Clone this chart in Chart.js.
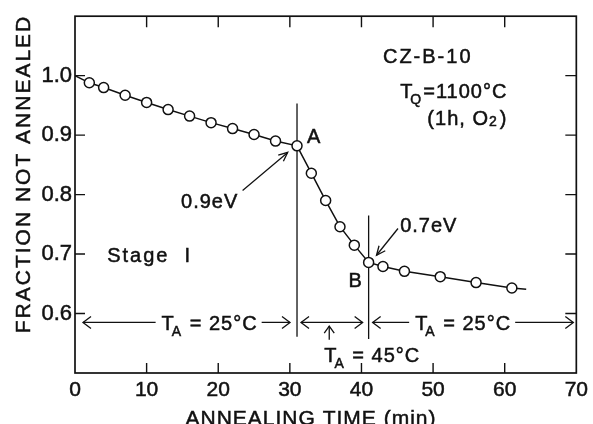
<!DOCTYPE html>
<html>
<head>
<meta charset="utf-8">
<script src="https://cdn.jsdelivr.net/npm/chart.js@4"></script>
<style>
  html, body { margin: 0; padding: 0; background: #fff; }
</style>
</head>
<body>
<canvas id="annealChart" width="593" height="424"></canvas>
<script>
// Recovery of sample CZ-B-10 during stepwise annealing
const annealTime = [2, 4, 7, 10, 13, 16, 19, 22, 25, 28, 31, 33, 35, 37, 39, 41, 43, 46, 51, 56, 61];
const fractionLeft = [0.988, 0.980, 0.967, 0.955, 0.943, 0.932, 0.921, 0.911, 0.901, 0.890, 0.882,
                      0.836, 0.790, 0.746, 0.715, 0.686, 0.679, 0.671, 0.662, 0.652, 0.643];
// fitted curve runs a little past the measured points at both ends
const curveStart = [0, 1.0];
const curveEnd = [63, 0.641];

const timeTicks = [0, 10, 20, 30, 40, 50, 60, 70];
const fractionTicks = [0.6, 0.7, 0.8, 0.9, 1.0];

// annealing stages: boundaries (min) and temperature of each stage (°C)
const stageBounds = [0, 31, 41, 70];
const stageTemps = ["25", "45", "25"];

const INK = "#111";
const FONT = "'Liberation Sans', Arial, sans-serif";

const measured = annealTime.map((t, i) => ({ x: t, y: fractionLeft[i] }));
const curve = [
  { x: curveStart[0], y: curveStart[1] },
  ...measured,
  { x: curveEnd[0], y: curveEnd[1] }
];

// ---------------- drawing helpers ----------------
// parts: [text, "sub" | "small" | undefined, extra gap before]
function richText(ctx, parts, x, y, size, align) {
  const fontFor = kind => (kind ? Math.round(size * 0.72) : size) + "px " + FONT;
  let total = 0;
  const widths = parts.map(([txt, kind, gap = 0]) => {
    ctx.font = fontFor(kind);
    const w = ctx.measureText(txt).width + gap;
    total += w;
    return w;
  });
  const left = align === "center" ? x - total / 2 : align === "right" ? x - total : x;
  let cx = left;
  const base = y + size * 0.36;
  ctx.textAlign = "left";
  ctx.textBaseline = "alphabetic";
  ctx.lineWidth = 0.5;
  parts.forEach(([txt, kind, gap = 0], i) => {
    ctx.font = fontFor(kind);
    const dy = kind === "sub" ? size * 0.3 : kind === "small" ? size * 0.05 : 0;
    ctx.fillText(txt, cx + gap, base + dy);
    ctx.strokeText(txt, cx + gap, base + dy);
    cx += widths[i];
  });
  return { left, width: total };
}

function arrowHead(ctx, x1, y1, x2, y2, len, half) {
  const a = Math.atan2(y2 - y1, x2 - x1);
  const spread = Math.atan2(half, len);
  const l = Math.hypot(len, half);
  ctx.beginPath();
  ctx.moveTo(x2 - l * Math.cos(a - spread), y2 - l * Math.sin(a - spread));
  ctx.lineTo(x2, y2);
  ctx.lineTo(x2 - l * Math.cos(a + spread), y2 - l * Math.sin(a + spread));
  ctx.stroke();
}

function arrow(ctx, x1, y1, x2, y2, len, half) {
  ctx.beginPath();
  ctx.moveTo(x1, y1);
  ctx.lineTo(x2, y2);
  ctx.stroke();
  arrowHead(ctx, x1, y1, x2, y2, len, half);
}

// ---------------- frame, inward ticks, stage markers ----------------
const frameAndMarkers = {
  id: "frameAndMarkers",
  beforeDatasetsDraw(chart) {
    const { ctx, chartArea: a, scales: { x, y } } = chart;
    ctx.save();
    ctx.strokeStyle = INK;
    ctx.lineWidth = 1.7;
    ctx.strokeRect(a.left, a.top, a.right - a.left, a.bottom - a.top);

    ctx.lineWidth = 1.4;
    ctx.beginPath();
    timeTicks.slice(1, -1).forEach(t => {
      const px = x.getPixelForValue(t);
      ctx.moveTo(px, a.bottom); ctx.lineTo(px, a.bottom - 10);
      ctx.moveTo(px, a.top); ctx.lineTo(px, a.top + 11);
    });
    fractionTicks.forEach(f => {
      const py = y.getPixelForValue(f);
      ctx.moveTo(a.left, py); ctx.lineTo(a.left + 10, py);
      ctx.moveTo(a.right, py); ctx.lineTo(a.right - 11, py);
    });
    ctx.stroke();

    // vertical lines marking the temperature changes (A and B)
    ctx.lineWidth = 1.3;
    ctx.beginPath();
    ctx.moveTo(x.getPixelForValue(stageBounds[1]), y.getPixelForValue(0.953));
    ctx.lineTo(x.getPixelForValue(stageBounds[1]), y.getPixelForValue(0.561));
    ctx.moveTo(x.getPixelForValue(stageBounds[2]), y.getPixelForValue(0.765));
    ctx.lineTo(x.getPixelForValue(stageBounds[2]), y.getPixelForValue(0.557));
    ctx.stroke();
    ctx.restore();
  },

  afterDraw(chart) {
    const { ctx, scales: { x, y } } = chart;
    const X = v => x.getPixelForValue(v);
    const Y = v => y.getPixelForValue(v);
    ctx.save();
    ctx.fillStyle = INK;
    ctx.strokeStyle = INK;
    ctx.letterSpacing = "1px";

    // axis titles
    ctx.save();
    ctx.letterSpacing = "2px";
    ctx.font = "21px " + FONT;
    ctx.lineWidth = 0.5;
    ctx.textAlign = "center";
    ctx.textBaseline = "middle";
    ctx.translate(24, 174);
    ctx.rotate(-Math.PI / 2);
    ctx.fillText("FRACTION NOT ANNEALED", 0, 0);
    ctx.strokeText("FRACTION NOT ANNEALED", 0, 0);
    ctx.restore();

    ctx.save();
    ctx.letterSpacing = "1px";
    ctx.font = "21px " + FONT;
    ctx.lineWidth = 0.5;
    ctx.textAlign = "center";
    ctx.textBaseline = "alphabetic";
    ctx.fillText("ANNEALING TIME (min)", 311, 425);
    ctx.strokeText("ANNEALING TIME (min)", 311, 425);
    ctx.restore();

    // sample and quench conditions
    ctx.letterSpacing = "2px";
    richText(ctx, [["CZ-B-10"]], X(43.0), Y(1.033), 20, "left");
    ctx.letterSpacing = "1px";
    richText(ctx, [["T"], ["Q", "sub", -3], ["=1100°C", undefined, 1]], X(45.4), Y(0.974), 20, "left");
    richText(ctx, [["(1h, O"], ["2", "small"], [")", undefined, 2]], X(49.2), Y(0.929), 20, "left");

    ctx.letterSpacing = "2px";
    richText(ctx, [["Stage  I"]], X(4.5), Y(0.698), 20, "left");
    ctx.letterSpacing = "1px";

    // break points
    richText(ctx, [["A"]], X(33.4), Y(0.899), 20, "center");
    richText(ctx, [["B"]], X(39.2), Y(0.656), 20, "center");

    // activation energies
    richText(ctx, [["0.9eV"]], X(22.8), Y(0.790), 20, "right");
    ctx.lineWidth = 1.3;
    arrow(ctx, X(23.4), Y(0.807), X(29.7), Y(0.871), 9, 4);
    richText(ctx, [["0.7eV"]], X(45.4), Y(0.750), 20, "left");
    ctx.lineWidth = 1.3;
    arrow(ctx, X(45.1), Y(0.743), X(42.1), Y(0.698), 9, 4);

    // annealing temperature ranges
    const lvl = Y(0.585);
    const insets = [[8, 7], [4, 6], [4, 3]];
    const textAt = [18.8, null, 54.2];
    stageTemps.forEach((temp, i) => {
      const x1 = X(stageBounds[i]) + insets[i][0];
      const x2 = X(stageBounds[i + 1]) - insets[i][1];
      const label = [["T"], ["A", "sub", -3], [" = " + temp + "°C", undefined, 1]];
      if (textAt[i] !== null) {
        const box = richText(ctx, label, X(textAt[i]), lvl, 20, "center");
        ctx.lineWidth = 1.3;
        ctx.beginPath();
        ctx.moveTo(x1, lvl); ctx.lineTo(box.left - 6, lvl);
        ctx.moveTo(box.left + box.width + 4, lvl); ctx.lineTo(x2, lvl);
        ctx.stroke();
      } else {
        ctx.lineWidth = 1.3;
        ctx.beginPath();
        ctx.moveTo(x1, lvl); ctx.lineTo(x2, lvl);
        ctx.stroke();
        // label sits below, pointed at by a short upward arrow
        arrow(ctx, X(35.5), Y(0.556), X(35.5), Y(0.579), 7, 5);
        richText(ctx, label, X(34.8), Y(0.530), 20, "left");
        ctx.lineWidth = 1.3;
      }
      arrowHead(ctx, x2, lvl, x1, lvl, 8, 6);
      arrowHead(ctx, x1, lvl, x2, lvl, 8, 6);
    });
    ctx.restore();
  }
};

// ---------------- CHART ----------------
new Chart(document.getElementById("annealChart"), {
  type: "scatter",
  data: {
    datasets: [
      {
        data: measured,
        showLine: false,
        pointRadius: 5,
        pointBackgroundColor: "#fff",
        pointBorderColor: INK,
        pointBorderWidth: 1.5
      },
      {
        data: curve,
        showLine: true,
        pointRadius: 0,
        borderColor: INK,
        borderWidth: 1.5,
        tension: 0
      }
    ]
  },
  options: {
    responsive: false,
    animation: false,
    devicePixelRatio: 1,
    layout: { padding: { top: 15, right: 9, left: 0, bottom: 0 } },
    plugins: {
      legend: { display: false },
      tooltip: { enabled: false }
    },
    scales: {
      x: {
        type: "linear",
        min: 0,
        max: 70,
        grid: { display: false, drawTicks: false },
        border: { display: false },
        afterBuildTicks: s => { s.ticks = timeTicks.map(v => ({ value: v })); },
        afterFit: s => { s.height = 51; },
        ticks: {
          autoSkip: false,
          maxRotation: 0,
          padding: 5,
          color: INK,
          textStrokeColor: INK,
          textStrokeWidth: 0.5,
          font: { family: FONT, size: 21 },
          callback: v => String(v)
        }
      },
      y: {
        min: 0.5,
        max: 1.1,
        grid: { display: false, drawTicks: false },
        border: { display: false },
        afterBuildTicks: s => { s.ticks = fractionTicks.map(v => ({ value: v })); },
        afterFit: s => { s.width = 75; },
        ticks: {
          padding: 3,
          color: INK,
          textStrokeColor: INK,
          textStrokeWidth: 0.5,
          font: { family: FONT, size: 22 },
          callback: v => v.toFixed(1)
        }
      }
    }
  },
  plugins: [frameAndMarkers]
});
</script>
</body>
</html>
